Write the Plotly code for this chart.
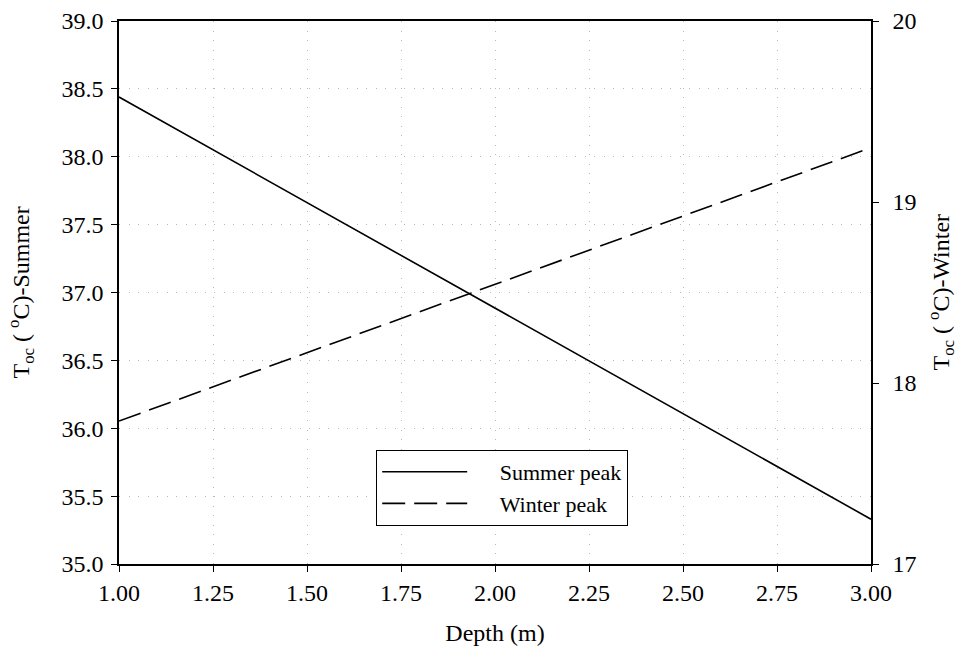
import plotly.graph_objects as go

depth = [1.0, 3.0]
summer_peak = [38.44, 35.33]
winter_peak = [17.79, 19.30]

font = "Liberation Serif"
fs = 24

fig = go.Figure()
fig.add_trace(go.Scatter(x=depth, y=summer_peak, mode="lines", name="\u00a0\u00a0\u00a0\u00a0\u00a0Summer peak",
                         line=dict(color="black", width=1.6)))
fig.add_trace(go.Scatter(x=depth, y=winter_peak, mode="lines", name="\u00a0\u00a0\u00a0\u00a0\u00a0Winter peak", yaxis="y2",
                         line=dict(color="black", width=1.6, dash="23px,9px")))

grid = dict(showgrid=True, gridcolor="#b8b8b8", griddash="1px,8.5px", gridwidth=1.2)

fig.update_layout(
    width=958, height=653,
    margin=dict(l=119, r=87, t=21, b=89, autoexpand=False),
    paper_bgcolor="white", plot_bgcolor="white",
    font=dict(family=font, size=fs, color="black"),
    showlegend=True,
    legend=dict(x=0.342, y=0.21, xanchor="left", yanchor="top",
                bordercolor="black", borderwidth=1, bgcolor="white",
                font=dict(family=font, size=22), itemwidth=85,
                tracegroupgap=0),
    xaxis=dict(range=[1.0, 3.0], tickvals=[1.0, 1.25, 1.5, 1.75, 2.0, 2.25, 2.5, 2.75, 3.0],
               tickformat=".2f", ticks="outside", ticklen=6, tickcolor="black", automargin=False,
               showline=True, linecolor="black", linewidth=1.5, mirror=True,
               zeroline=False, **grid,
               title=dict(text="Depth (m)", font=dict(family=font, size=fs), standoff=20)),
    yaxis=dict(range=[35.0, 39.0], tickvals=[35.0, 35.5, 36.0, 36.5, 37.0, 37.5, 38.0, 38.5, 39.0],
               tickformat=".1f", ticks="outside", ticklen=6, tickcolor="black", automargin=False,
               showline=True, linecolor="black", linewidth=1.5, ticklabelstandoff=3,
               zeroline=False, **grid),
    yaxis2=dict(range=[17, 20], tickvals=[17, 18, 19, 20], overlaying="y", side="right",
                ticks="outside", ticklen=6, tickcolor="black", ticklabelstandoff=9, automargin=False,
                showline=True, linecolor="black", linewidth=1.5,
                showgrid=False, zeroline=False),
    annotations=[
        dict(text="T<sub>oc</sub> ( <sup>o</sup>C)-Summer", xref="paper", yref="paper",
             x=(20 - 119) / 752, y=0.5, textangle=-90, showarrow=False,
             xanchor="center", yanchor="middle", font=dict(family=font, size=fs)),
        dict(text="T<sub>oc</sub> ( <sup>o</sup>C)-Winter", xref="paper", yref="paper",
             x=(940 - 119) / 752, y=0.5, textangle=-90, showarrow=False,
             xanchor="center", yanchor="middle", font=dict(family=font, size=fs)),
    ],
)

fig.write_html("out.html")
